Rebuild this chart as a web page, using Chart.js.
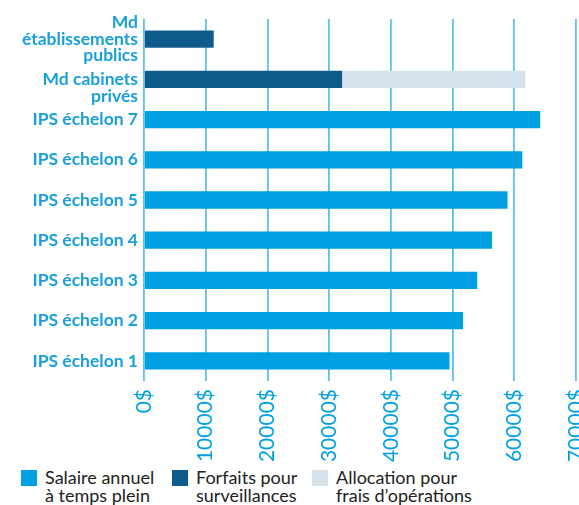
<!DOCTYPE html>
<html>
<head>
<meta charset="utf-8">
<script src="https://cdn.jsdelivr.net/npm/chart.js@4/dist/chart.umd.min.js"></script>
<style>
    body { margin: 0; background: #fff; font-family: Lato, sans-serif; }
    #wrap { position: relative; width: 579px; height: 505px; }
    #chartBox { position: absolute; left: 0; top: 0; width: 579px; height: 465px; }
    .legend-item { position: absolute; top: 468px; }
    .legend-item .box { position: absolute; left: 0; top: 2px; width: 16px; height: 16px; }
    .legend-item .txt { position: absolute; left: 24px; top: 0; font-size: 18px; line-height: 18px; color: #222; white-space: nowrap; }
</style>
</head>
<body>
<div id="wrap">
    <div id="chartBox"><canvas id="chart"></canvas></div>
    <div class="legend-item" style="left:21px"><div class="box" style="background:#00a0e2"></div><div class="txt">Salaire annuel<br>à temps plein</div></div>
    <div class="legend-item" style="left:172px"><div class="box" style="background:#0f5c8c"></div><div class="txt">Forfaits pour<br>surveillances</div></div>
    <div class="legend-item" style="left:312px"><div class="box" style="background:#d6e3ed"></div><div class="txt">Allocation pour<br>frais d’opérations</div></div>
</div>
<script>
// l'étiquette des cabinets privés commence au niveau de la barre, d'où la ligne vide
const categories = [
    ['Md', 'établissements', 'publics'],
    ['', 'Md cabinets', 'privés'],
    'IPS échelon 7',
    'IPS échelon 6',
    'IPS échelon 5',
    'IPS échelon 4',
    'IPS échelon 3',
    'IPS échelon 2',
    'IPS échelon 1'
];
const salaire = [null, null, 64200, 61300, 58900, 56400, 54000, 51700, 49500];
const forfaits = [11300, 32100, null, null, null, null, null, null, null];
const allocation = [null, 29700, null, null, null, null, null, null, null];
const xTicks = [0, 10000, 20000, 30000, 40000, 50000, 60000, 70000];

const blue = '#1a9fdc';

new Chart(document.getElementById('chart'), {
    type: 'bar',
    data: {
        labels: categories,
        datasets: [
            { label: 'Salaire annuel à temps plein', data: salaire, backgroundColor: '#00a0e2' },
            { label: 'Forfaits pour surveillances', data: forfaits, backgroundColor: '#0f5c8c' },
            { label: 'Allocation pour frais d’opérations', data: allocation, backgroundColor: '#d6e3ed' }
        ]
    },
    options: {
        indexAxis: 'y',
        responsive: true,
        maintainAspectRatio: false,
        animation: false,
        datasets: { bar: { barPercentage: 0.43, categoryPercentage: 1 } },
        layout: { padding: { top: 19, right: 3, left: 0, bottom: 0 } },
        plugins: { legend: { display: false }, tooltip: { enabled: false } },
        scales: {
            x: {
                stacked: true,
                min: 0,
                max: 70000,
                border: { display: false },
                grid: { color: '#5ec0ec', lineWidth: 1.8, drawTicks: false },
                afterBuildTicks: scale => { scale.ticks = xTicks.map(v => ({ value: v })); },
                afterFit: scale => {
                    scale.height = 84;
                    scale.paddingLeft = 0;
                    scale.paddingRight = 0;
                },
                ticks: {
                    minRotation: 90,
                    maxRotation: 90,
                    padding: 8,
                    color: '#00a0e2',
                    font: { family: 'Lato', size: 21 },
                    callback: v => v + '$'
                }
            },
            y: {
                stacked: true,
                border: { display: false },
                grid: { display: false, drawTicks: false },
                afterFit: scale => {
                    scale.width = 144;
                    scale.paddingTop = 0;
                    scale.paddingBottom = 0;
                },
                ticks: {
                    autoSkip: false,
                    padding: 6,
                    color: blue,
                    font: { family: 'Lato', size: 17.5, weight: 'bold', lineHeight: 0.95 }
                }
            }
        }
    }
});
</script>
</body>
</html>
